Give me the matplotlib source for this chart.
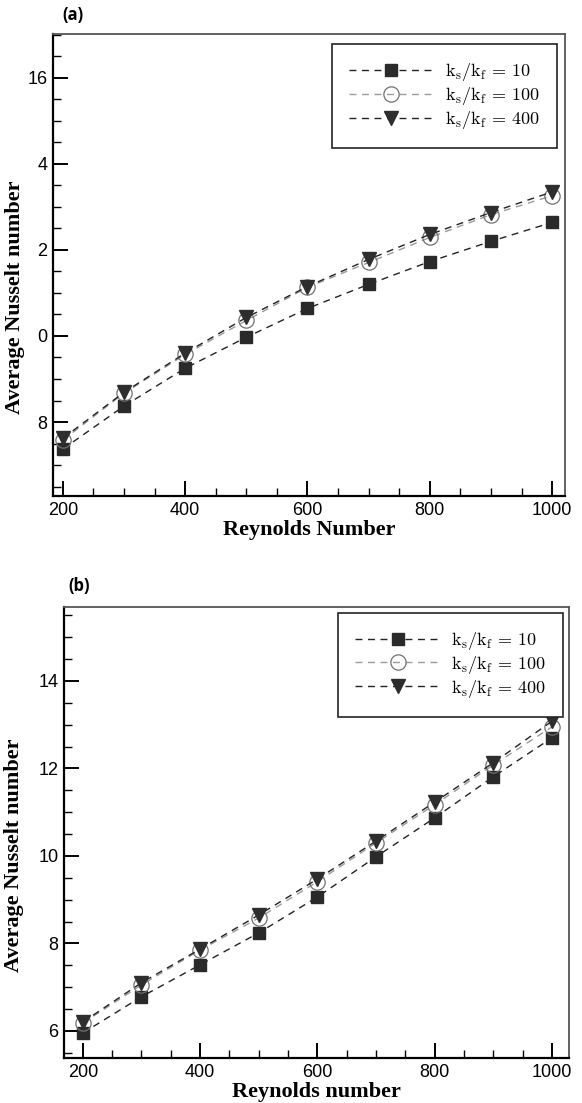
import matplotlib
matplotlib.use("Agg")
import matplotlib.pyplot as plt
from matplotlib.ticker import FixedLocator, MultipleLocator

plt.rcParams['mathtext.fontset'] = 'cm'
plt.rcParams['font.family'] = ['Liberation Sans', 'DejaVu Sans']

# Reynolds numbers shared by both cases
reynolds = [200, 300, 400, 500, 600, 700, 800, 900, 1000]

# (a) average Nusselt number for each conductivity ratio
nu_a_10 = [7.37, 8.37, 9.25, 9.97, 10.64, 11.20, 11.73, 12.20, 12.64]
nu_a_100 = [7.58, 8.67, 9.57, 10.36, 11.13, 11.71, 12.29, 12.82, 13.26]
nu_a_400 = [7.62, 8.69, 9.60, 10.43, 11.15, 11.78, 12.36, 12.87, 13.35]

# (b) average Nusselt number for each conductivity ratio
nu_b_10 = [5.95, 6.78, 7.51, 8.24, 9.06, 9.98, 10.87, 11.81, 12.70]
nu_b_100 = [6.18, 7.05, 7.85, 8.58, 9.41, 10.30, 11.17, 12.08, 12.95]
nu_b_400 = [6.20, 7.10, 7.87, 8.65, 9.47, 10.34, 11.23, 12.13, 13.08]

labels = [r'$\mathrm{k_s/k_f}\,=\,\mathrm{10}$',
          r'$\mathrm{k_s/k_f}\,=\,\mathrm{100}$',
          r'$\mathrm{k_s/k_f}\,=\,\mathrm{400}$']

# y tick values and the text printed next to them
yticks_a = [8, 10, 12, 14, 16]
yticklabels_a = ['8', '0', '2', '4', '16']
yticks_b = [6, 8, 10, 12, 14]
yticklabels_b = ['6', '8', '10', '12', '14']

fig = plt.figure(figsize=(5.82, 11.03), dpi=100)
ax_a = fig.add_axes([0.0911, 0.5503, 0.8797, 0.4189])
ax_b = fig.add_axes([0.110, 0.0408, 0.8677, 0.4089])


def draw_panel(ax, n10, n100, n400, ylim, yticks, yticklabels, xlim,
               xlabel, legend_box):
    dash = (0, (5, 4))
    ax.plot(reynolds, n10, linestyle=dash, color='#222222', lw=1.0,
            marker='s', ms=8, mfc='#2a2a2a', mec='#2a2a2a', label=labels[0])
    ax.plot(reynolds, n100, linestyle=dash, color='#9a9a9a', lw=1.0,
            marker='o', ms=11, mfc='none', mec='#707070', mew=0.9,
            label=labels[1])
    ax.plot(reynolds, n400, linestyle=dash, color='#222222', lw=1.0,
            marker='v', ms=9.5, mfc='#2e2e2e', mec='#2e2e2e', label=labels[2])

    ax.set_xlim(*xlim)
    ax.set_ylim(*ylim)
    ax.xaxis.set_major_locator(FixedLocator([200, 400, 600, 800, 1000]))
    ax.xaxis.set_minor_locator(MultipleLocator(50))
    ax.yaxis.set_major_locator(FixedLocator(yticks))
    ax.set_yticklabels(yticklabels)
    ax.yaxis.set_minor_locator(MultipleLocator(0.5))
    ax.tick_params(which='both', direction='in', top=False, right=False,
                   labelsize=13, width=1.4, color='black')
    ax.tick_params(which='major', length=11, pad=4)
    ax.tick_params(which='minor', length=6, width=1.0)

    for side in ['left', 'bottom']:
        ax.spines[side].set_linewidth(1.6)
        ax.spines[side].set_color('black')
    for side in ['top', 'right']:
        ax.spines[side].set_linewidth(1.3)
        ax.spines[side].set_color('#555555')

    ax.set_xlabel(xlabel, fontsize=16, fontweight='bold',
                  fontfamily='Liberation Serif', labelpad=1)
    ax.set_ylabel('Average Nusselt number', fontsize=16, fontweight='bold',
                  fontfamily='Liberation Serif')

    leg = ax.legend(loc='upper right', bbox_to_anchor=legend_box,
                    fontsize=13, frameon=True, fancybox=False, framealpha=1,
                    handlelength=4.7, handletextpad=0.6, labelspacing=0.1,
                    borderpad=0.95, borderaxespad=0)
    leg.get_frame().set_edgecolor('#222222')
    leg.get_frame().set_linewidth(1.2)


draw_panel(ax_a, nu_a_10, nu_a_100, nu_a_400, (6.28, 17.02),
           yticks_a, yticklabels_a, (184, 1021), 'Reynolds Number',
           (0.984, 0.978))
draw_panel(ax_b, nu_b_10, nu_b_100, nu_b_400, (5.38, 15.69),
           yticks_b, yticklabels_b, (168, 1029), 'Reynolds number',
           (0.988, 0.987))

ax_a.yaxis.set_label_coords(-0.055, 0.43)
ax_b.yaxis.set_label_coords(-0.08, 0.45)

fig.text(0.108, 0.986, '(a)', fontsize=12, fontweight='bold',
         fontfamily='Open Sans', va='center')
fig.text(0.117, 0.469, '(b)', fontsize=12, fontweight='bold',
         fontfamily='Open Sans', va='center')

fig.savefig('out.png', dpi=100)
